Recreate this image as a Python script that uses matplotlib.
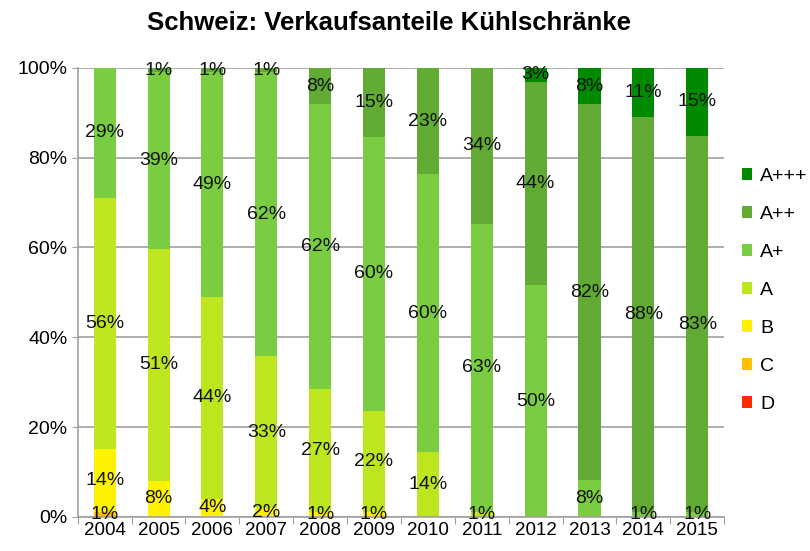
import numpy as np
import matplotlib.pyplot as plt

plt.rcParams["font.family"] = ["Liberation Sans", "DejaVu Sans"]

years = ["2004", "2005", "2006", "2007", "2008", "2009", "2010", "2011", "2012", "2013", "2014", "2015"]
classes = ["D", "C", "B", "A", "A+", "A++", "A+++"]

# Anteile in % (wie beschriftet)
share_d = [0, 0, 0, 0, 0, 0, 0, 0, 0, 0, 0, 0]
share_c = [1, 0, 0, 0, 0, 0, 0, 0, 0, 0, 0, 0]
share_b = [14, 8, 4, 2, 1, 1, 0, 0, 0, 0, 0, 0]
share_a = [56, 51, 44, 33, 27, 22, 14, 1, 0, 0, 0, 0]
share_ap = [29, 39, 49, 62, 62, 60, 60, 63, 50, 8, 1, 1]
share_app = [0, 1, 1, 1, 8, 15, 23, 34, 44, 82, 88, 83]
share_appp = [0, 0, 0, 0, 0, 0, 0, 0, 3, 8, 11, 15]

colors = ["#ff2a00", "#ffc000", "#fff200", "#bde61f", "#7acd40", "#61ab34", "#008a00"]

data = np.array([share_d, share_c, share_b, share_a, share_ap, share_app, share_appp], dtype=float)
norm = data / data.sum(axis=0) * 100

fig, ax = plt.subplots(figsize=(8.1, 5.51), dpi=100)
fig.subplots_adjust(left=0.096, right=0.894, top=0.877, bottom=0.062)

x = np.arange(len(years))
bottom = np.zeros(len(years))
for i, cls in enumerate(classes):
    bars = ax.bar(x, norm[i], 0.41, bottom=bottom, color=colors[i], label=cls, zorder=2)
    labels = ["{:.0f}%".format(v) if v > 0 else "" for v in data[i]]
    ax.bar_label(bars, labels=labels, label_type="center", fontsize=14, color="#111111", zorder=3)
    bottom += norm[i]

ax.set_xlim(-0.5, len(years) - 0.5)
ax.set_ylim(0, 100)
ax.set_yticks(range(0, 101, 20))
ax.set_yticklabels(["{}%".format(v) for v in range(0, 101, 20)], fontsize=14)
ax.yaxis.grid(True, color="#a0a0a0", linewidth=1.2, zorder=0)
ax.tick_params(axis="y", length=4, color="#a0a0a0")

ax.set_xticks(np.arange(-0.5, len(years), 1))
ax.set_xticklabels([])
ax.tick_params(axis="x", which="major", length=5, color="#a0a0a0")
ax.set_xticks(x, minor=True)
ax.set_xticklabels(years, minor=True, fontsize=13.5)
ax.tick_params(axis="x", which="minor", length=0, pad=4)

for s in ["top", "right"]:
    ax.spines[s].set_visible(False)
for s in ["left", "bottom"]:
    ax.spines[s].set_color("#a0a0a0")
    ax.spines[s].set_linewidth(1.2)

handles, lbls = ax.get_legend_handles_labels()
ax.legend(handles[::-1], lbls[::-1], loc="center left", bbox_to_anchor=(1.0, 0.505),
          frameon=False, fontsize=14, handlelength=0.55, handleheight=0.55,
          handletextpad=0.4, labelspacing=1.08)

fig.suptitle("Schweiz: Verkaufsanteile Kühlschränke", fontsize=18.5, fontweight="bold", x=0.48, y=0.98)

plt.savefig("out.png")
